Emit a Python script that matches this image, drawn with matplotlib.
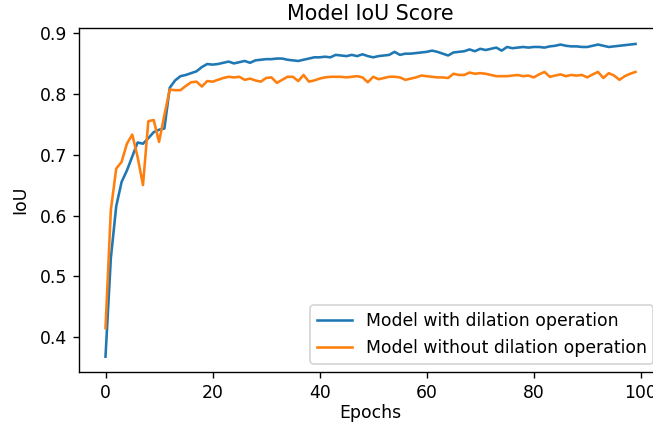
import matplotlib
matplotlib.use("Agg")
import matplotlib.pyplot as plt

# IoU per epoch
epochs = list(range(100))
iou_dilation = [
    0.368, 0.530, 0.615, 0.655, 0.674, 0.697, 0.720, 0.718, 0.727, 0.737,
    0.741, 0.743, 0.810, 0.822, 0.829, 0.831, 0.834, 0.837, 0.844, 0.849,
    0.848, 0.849, 0.851, 0.853, 0.850, 0.852, 0.854, 0.851, 0.855, 0.856,
    0.857, 0.857, 0.858, 0.858, 0.856, 0.855, 0.854, 0.856, 0.858, 0.860,
    0.860, 0.861, 0.860, 0.864, 0.863, 0.862, 0.864, 0.862, 0.865, 0.862,
    0.860, 0.862, 0.863, 0.864, 0.869, 0.864, 0.866, 0.866, 0.867, 0.868,
    0.869, 0.871, 0.869, 0.866, 0.863, 0.868, 0.869, 0.870, 0.873, 0.870,
    0.874, 0.872, 0.874, 0.876, 0.871, 0.877, 0.875, 0.876, 0.877, 0.876,
    0.877, 0.877, 0.876, 0.878, 0.879, 0.881, 0.879, 0.878, 0.878, 0.877,
    0.877, 0.879, 0.881, 0.879, 0.877, 0.878, 0.879, 0.880, 0.881, 0.882,
]
iou_no_dilation = [
    0.415, 0.609, 0.677, 0.688, 0.718, 0.733, 0.696, 0.650, 0.755, 0.757,
    0.721, 0.765, 0.807, 0.806, 0.806, 0.813, 0.819, 0.820, 0.812, 0.821,
    0.820, 0.823, 0.826, 0.828, 0.827, 0.828, 0.823, 0.825, 0.822, 0.820,
    0.826, 0.827, 0.818, 0.823, 0.828, 0.828, 0.821, 0.831, 0.820, 0.822,
    0.825, 0.827, 0.828, 0.828, 0.828, 0.827, 0.828, 0.829, 0.827, 0.819,
    0.828, 0.824, 0.826, 0.828, 0.828, 0.827, 0.823, 0.825, 0.827, 0.830,
    0.829, 0.828, 0.827, 0.827, 0.826, 0.833, 0.831, 0.831, 0.835, 0.833,
    0.834, 0.833, 0.831, 0.829, 0.829, 0.829, 0.830, 0.831, 0.829, 0.830,
    0.827, 0.832, 0.836, 0.828, 0.830, 0.832, 0.829, 0.831, 0.830, 0.831,
    0.827, 0.832, 0.836, 0.826, 0.834, 0.830, 0.823, 0.829, 0.833, 0.836,
]

DPI = 124
fig = plt.figure(figsize=(653 / DPI, 425 / DPI), dpi=DPI)
# the reference is cropped on the right, so the axes run past the figure edge
ax = fig.add_axes([79 / 653, 52.7 / 425, 583 / 653, 344 / 425])

ax.plot(epochs, iou_dilation, label="Model with dilation operation")
ax.plot(epochs, iou_no_dilation, label="Model without dilation operation")

ax.set_title("Model IoU Score", pad=5)
ax.set_xlabel("Epochs", labelpad=1)
ax.set_ylabel("IoU", labelpad=6)
ax.set_xticks([0, 20, 40, 60, 80, 100])
ax.legend(loc="lower right")

fig.savefig("out.png", dpi=DPI)
